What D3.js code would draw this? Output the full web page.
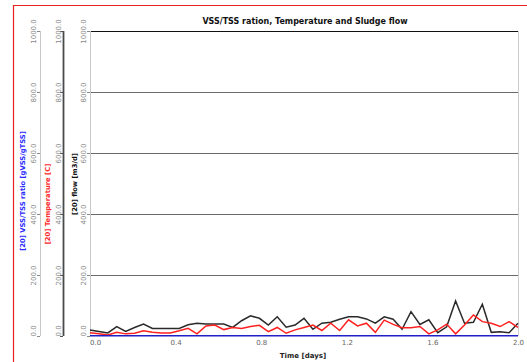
<!DOCTYPE html>
<html><head><meta charset="utf-8">
<script src="https://cdn.jsdelivr.net/npm/d3@7"></script>
<style>body{margin:0;background:#fff}svg{display:block}</style>
</head><body><svg id="c" width="527" height="362"></svg>
<script>
const hours = [0,1,2,3,4,5,6,7,8,9,10,11,12,13,14,15,16,17,18,19,20,21,22,23,24,25,26,27,28,29,30,31,32,33,34,35,36,37,38,39,40,41,42,43,44,45,46,47,48];
const flow = [20,15,10,31,15,28,39,25,25,25,25,37,42,39,39,39,28,50,66,58,36,63,29,36,58,22,42,45,55,63,63,56,42,63,55,22,80,38,53,11,30,115,42,45,104,12,14,11,42];
const temperature = [11,7,3,12,7,9,17,12,10,10,17,25,7,33,36,21,28,25,31,35,14,28,9,20,28,36,18,42,18,53,33,42,12,52,38,27,27,31,7,20,39,7,36,69,47,42,31,47,28];
const vssTss = [0.82,0.81,0.80,0.81,0.80,0.79,0.80,0.81,0.80,0.80,0.79,0.80,0.81,0.80,0.79,0.80,0.80,0.81,0.80,0.79,0.80,0.80,0.81,0.80,0.79,0.80,0.80,0.81,0.80,0.79,0.80,0.80,0.81,0.80,0.79,0.80,0.80,0.81,0.80,0.79,0.80,0.80,0.81,0.80,0.79,0.80,0.80,0.81,0.80];
const yTicks = [0,200,400,600,800,1000];
const yTickLabels = ["0.0","200.0","400.0","600.0","800.0","1000.0"];
const xTicks = [0,0.4,0.8,1.2,1.6,2.0];
const xTickLabels = ["0.0","0.4","0.8","1.2","1.6","2.0"];
const chartTitle = "VSS/TSS ration, Temperature and Sludge flow";
const xTitle = "Time [days]";
const axisTitles = ["[20] VSS/TSS ratio [gVSS/gTSS]","[20] Temperature [C]","[20] flow [m3/d]"];
const axisColors = ["#2a2aff","#ff2a2a","#111"];

const svg = d3.select("#c");
const font = "DejaVu Sans, Verdana, sans-serif";
const L = 90, R = 518, T = 31, B = 336;
const x = d3.scaleLinear().domain([0, 2]).range([L, R]);
const y = d3.scaleLinear().domain([0, 1000]).range([B, T]);

// red frame
svg.append("line").attr("x1",13).attr("x2",527).attr("y1",5.5).attr("y2",5.5).attr("stroke","#e52222").attr("stroke-width",1.2);
svg.append("line").attr("x1",13.5).attr("x2",13.5).attr("y1",5).attr("y2",362).attr("stroke","#e52222").attr("stroke-width",1.2);

// grid lines
yTicks.forEach(v => {
  if (v === 0) return;
  svg.append("line").attr("x1",L).attr("x2",R).attr("y1",Math.round(y(v))+0.5).attr("y2",Math.round(y(v))+0.5)
    .attr("stroke", v === 1000 ? "#111" : "#6a6a6a").attr("stroke-width", 1);
});
// right border
svg.append("line").attr("x1",R+0.5).attr("x2",R+0.5).attr("y1",T).attr("y2",B).attr("stroke","#ccc");

// y axes
const axisDefs = [
  {ax: 40, lineColor:"#c8c8c8", lw:1, labOff:4.5, titleX:25, titleY:191},
  {ax: 63, lineColor:"#4a4a4a", lw:1.8, labOff:2.5, titleX:50, titleY:204},
  {ax: 90, lineColor:"#c8c8c8", lw:1, labOff:4.5, titleX:77, titleY:184}
];
axisDefs.forEach((d, k) => {
  const g = svg.append("g").attr("transform", `translate(${d.ax},0)`)
    .call(d3.axisLeft(y).tickValues(yTicks).tickFormat((v,i)=>yTickLabels[i]).tickSize(3).tickPadding(0));
  g.select(".domain").attr("stroke", d.lineColor).attr("stroke-width", d.lw).attr("d", `M0.5,${T}V${B}`);
  g.selectAll(".tick line").attr("stroke", k === 1 ? "#555" : "#888");
  g.selectAll(".tick text")
    .attr("x", null).attr("dy", null)
    .attr("text-anchor", (v,i) => i === 0 ? "start" : "middle")
    .attr("transform", `translate(${-d.labOff},0) rotate(-90)`)
    .attr("fill", "#8a8a8a").attr("font-family", font).attr("font-size", 7);
  svg.append("text").attr("transform", `translate(${d.titleX},${d.titleY}) rotate(-90)`)
    .attr("text-anchor","middle").attr("font-family", font).attr("font-size", 6.8).attr("font-weight","bold")
    .attr("fill", axisColors[k]).text(axisTitles[k]);
});

// x axis
const gx = svg.append("g").attr("transform", `translate(0,${B})`)
  .call(d3.axisBottom(x).tickValues(xTicks).tickFormat((v,i)=>xTickLabels[i]).tickSize(0).tickPadding(0));
gx.select(".domain").remove();
gx.selectAll(".tick text").attr("dy", null).attr("y", 8.5)
  .attr("text-anchor", (v,i) => i === 0 ? "start" : "middle")
  .attr("dx", (v,i) => i === 0 ? -0.5 : 0)
  .attr("fill", "#666").attr("font-family", font).attr("font-size", 7);

// lines
const mk = vals => d3.line().x((h,i) => x(h/24)).y((h,i) => y(vals[i]));
svg.append("path").attr("d", mk(flow)(hours)).attr("fill","none").attr("stroke","#2a2a2a").attr("stroke-width",1.5).attr("stroke-linejoin","miter");
svg.append("path").attr("d", mk(temperature)(hours)).attr("fill","none").attr("stroke","#ff2020").attr("stroke-width",1.5);
svg.append("path").attr("d", mk(vssTss)(hours)).attr("fill","none").attr("stroke","#2020c8").attr("stroke-width",1.6);

// titles
svg.append("text").attr("x", 305).attr("y", 24).attr("text-anchor","middle")
  .attr("font-family", font).attr("font-size", 8).attr("font-weight","bold").attr("fill","#111").text(chartTitle);
svg.append("text").attr("x", 303).attr("y", 358).attr("text-anchor","middle")
  .attr("font-family", font).attr("font-size", 7).attr("font-weight","bold").attr("fill","#222").text(xTitle);
</script>
</body></html>
